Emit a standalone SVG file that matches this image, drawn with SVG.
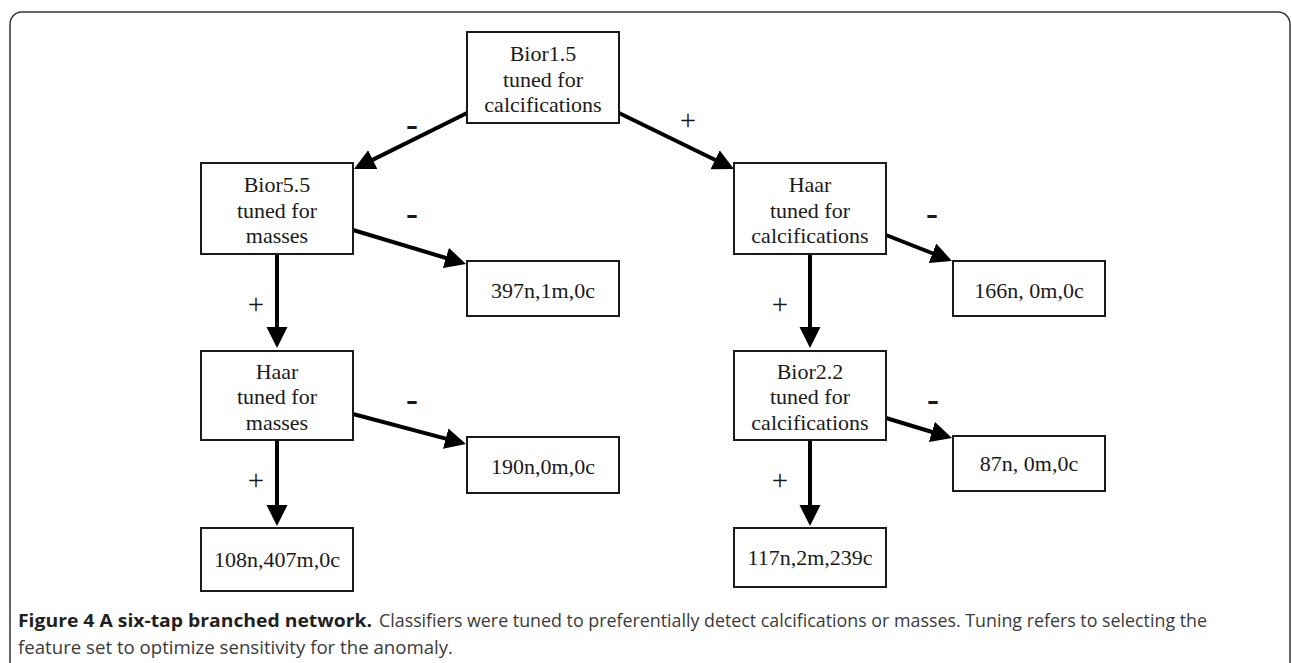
<svg xmlns="http://www.w3.org/2000/svg" width="1292" height="663" viewBox="0 0 1292 663">
<style>
.box{fill:#fff;stroke:#1a1a1a;stroke-width:2}
.t{font-family:"Liberation Serif","Times New Roman",serif;font-size:22px;fill:#1a1a1a;text-anchor:middle}
.plus{font-family:"Liberation Serif","Times New Roman",serif;font-size:29px;fill:#1a1a1a;text-anchor:middle}
.minus{font-family:"Liberation Serif","Times New Roman",serif;font-size:36px;font-weight:bold;fill:#1a1a1a;text-anchor:middle}
.edge{stroke:#000;stroke-width:4;fill:none;marker-end:url(#ah)}
.cap{font-family:"Open Sans","Noto Sans","Liberation Sans",sans-serif;font-size:18.5px;fill:#3a3a3a}
.capb{font-family:"Open Sans","Noto Sans","Liberation Sans",sans-serif;font-size:18.5px;font-weight:bold;fill:#231f20}
</style>
<defs>
<marker id="ah" markerUnits="userSpaceOnUse" markerWidth="24" markerHeight="22" refX="2" refY="10.5" orient="auto">
<path d="M0,0 L21,10.5 L0,21 z" fill="#000"/>
</marker>
</defs>
<rect x="0" y="0" width="1292" height="663" fill="#fff"/>
<rect id="frame" x="10" y="12" width="1280" height="680" rx="12" ry="12" fill="none" stroke="#333" stroke-width="1.5"/>

<g id="connectors">
<line class="edge" x1="467" y1="113" x2="371" y2="160.6"/>
<line class="edge" x1="619" y1="113" x2="716.9" y2="160.7"/>
<line class="edge" x1="353" y1="230" x2="447.8" y2="258.5"/>
<line class="edge" x1="277" y1="254" x2="277" y2="329"/>
<line class="edge" x1="353" y1="414" x2="447.6" y2="439.1"/>
<line class="edge" x1="277" y1="440" x2="277" y2="507"/>
<line class="edge" x1="886" y1="235" x2="934.3" y2="254"/>
<line class="edge" x1="810" y1="254" x2="810" y2="329"/>
<line class="edge" x1="886" y1="418" x2="933.8" y2="432.5"/>
<line class="edge" x1="810" y1="440" x2="810" y2="507"/>
<text class="minus" x="412" y="135.5">-</text>
<text class="plus" x="688" y="130">+</text>
<text class="minus" x="412" y="224.5">-</text>
<text class="plus" x="256" y="314">+</text>
<text class="minus" x="412" y="410.5">-</text>
<text class="plus" x="256" y="490">+</text>
<text class="minus" x="932" y="224.5">-</text>
<text class="plus" x="780" y="314">+</text>
<text class="minus" x="933" y="410.5">-</text>
<text class="plus" x="780" y="490">+</text>
</g>

<g id="n_bior15">
<rect class="box" x="467" y="32" width="152" height="91"/>
<text class="t" x="543" y="61">Bior1.5</text>
<text class="t" x="543" y="86.5">tuned for</text>
<text class="t" x="543" y="112">calcifications</text>
</g>
<g id="n_bior55">
<rect class="box" x="201" y="163" width="152" height="91"/>
<text class="t" x="277" y="192">Bior5.5</text>
<text class="t" x="277" y="217.5">tuned for</text>
<text class="t" x="277" y="243">masses</text>
</g>
<g id="n_haar_calc">
<rect class="box" x="734" y="163" width="152" height="91"/>
<text class="t" x="810" y="192">Haar</text>
<text class="t" x="810" y="217.5">tuned for</text>
<text class="t" x="810" y="243">calcifications</text>
</g>
<g id="n_397">
<rect class="box" x="467" y="261" width="152" height="55"/>
<text class="t" x="543" y="298">397n,1m,0c</text>
</g>
<g id="n_166">
<rect class="box" x="953" y="261" width="152" height="55"/>
<text class="t" x="1029" y="298">166n, 0m,0c</text>
</g>
<g id="n_haar_mass">
<rect class="box" x="201" y="351" width="152" height="89"/>
<text class="t" x="277" y="378.5">Haar</text>
<text class="t" x="277" y="404">tuned for</text>
<text class="t" x="277" y="429.5">masses</text>
</g>
<g id="n_bior22">
<rect class="box" x="734" y="351" width="152" height="89"/>
<text class="t" x="810" y="378.5">Bior2.2</text>
<text class="t" x="810" y="404">tuned for</text>
<text class="t" x="810" y="429.5">calcifications</text>
</g>
<g id="n_190">
<rect class="box" x="467" y="437" width="152" height="56"/>
<text class="t" x="543" y="474">190n,0m,0c</text>
</g>
<g id="n_87">
<rect class="box" x="953" y="436" width="152" height="55"/>
<text class="t" x="1029" y="471">87n, 0m,0c</text>
</g>
<g id="n_108">
<rect class="box" x="201" y="528" width="152" height="63"/>
<text class="t" x="277" y="567">108n,407m,0c</text>
</g>
<g id="n_117">
<rect class="box" x="734" y="528" width="152" height="59"/>
<text class="t" x="810" y="565">117n,2m,239c</text>
</g>

<g id="caption">
<text class="capb" x="18" y="627" textLength="354" lengthAdjust="spacingAndGlyphs">Figure 4 A six-tap branched network.</text>
<text class="cap" x="379" y="627" textLength="828" lengthAdjust="spacingAndGlyphs">Classifiers were tuned to preferentially detect calcifications or masses. Tuning refers to selecting the</text>
<text class="cap" x="18" y="654" textLength="435" lengthAdjust="spacingAndGlyphs">feature set to optimize sensitivity for the anomaly.</text>
</g>
</svg>
